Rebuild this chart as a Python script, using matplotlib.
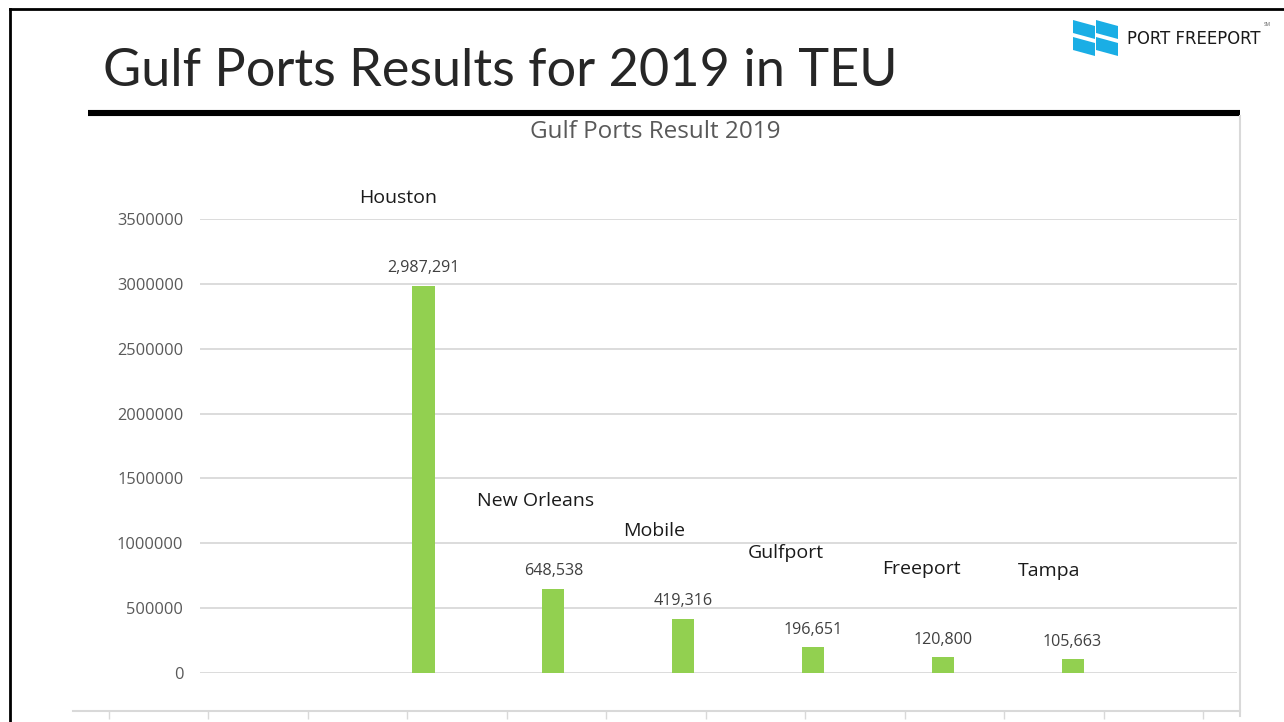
import numpy as np
import matplotlib
matplotlib.use("Agg")
import matplotlib.pyplot as plt
from matplotlib import font_manager
from matplotlib.patches import Polygon

# port container volumes, 2019 (TEU)
ports = ["Houston", "New Orleans", "Mobile", "Gulfport", "Freeport", "Tampa"]
teu = [2987291, 648538, 419316, 196651, 120800, 105663]
y_ticks = [0, 500000, 1000000, 1500000, 2000000, 2500000, 3000000, 3500000]

# name labels sit up and to the left of each bar (pixels)
name_dx = [-25, -18, -29, -27, -21, -23]
name_dy = [88, 88, 88, 94, 88, 88]

W, H = 1284, 722
installed = {f.name for f in font_manager.fontManager.ttflist}
narrow = "Liberation Sans Narrow" if "Liberation Sans Narrow" in installed else "DejaVu Sans"

plt.rcParams["font.family"] = ["Open Sans", "DejaVu Sans"]

fig = plt.figure(figsize=(W / 100, H / 100), dpi=100)
fig.patch.set_facecolor("white")

# slide layer in pixel coordinates
bg = fig.add_axes([0, 0, 1, 1], zorder=0)
bg.set_xlim(0, W)
bg.set_ylim(H, 0)
bg.axis("off")

bg.plot([10, 10], [9, H], color="black", lw=2)
bg.plot([10, W], [9, 9], color="black", lw=2)
bg.plot([88, 1240], [113, 113], color="black", lw=4.4, solid_capstyle="butt")
bg.plot([1240, 1240], [116, 716], color="#d9d9d9", lw=1.5)


def fit_width(t, target):
    fig.canvas.draw()
    w = t.get_window_extent().width
    t.set_fontsize(t.get_fontsize() * target / w)


title = bg.text(103, 72, "Gulf Ports Results for 2019 in TEU", fontsize=36,
                family=["Lato", "DejaVu Sans"], color="#262626", va="center", ha="left")
fit_width(title, 795)

# logo
blue = "#1aaee5"
for x0 in (1073, 1096):
    for y0 in (20, 37):
        bg.add_patch(Polygon([(x0, y0), (x0 + 22, y0 + 6), (x0 + 22, y0 + 19), (x0, y0 + 13)],
                             closed=True, color=blue, lw=0))
logo = bg.text(1127, 39, "PORT FREEPORT", fontsize=20, family=narrow, fontstretch="condensed",
               color="#1a1a1a", va="center", ha="left")
fit_width(logo, 134)
bg.text(1264, 24, "SM", fontsize=3.5, color="#555555", va="center", ha="left")

bg.text(655, 132, "Gulf Ports Result 2019", fontsize=17.5, color="#595959", ha="center", va="center")

# main chart
ax = fig.add_axes([200 / W, (H - 673) / H, 1037 / W, 454 / H], zorder=1)
ax.patch.set_alpha(0)
x = np.arange(1, len(ports) + 1)
ax.bar(x, teu, width=0.17, color="#92d050", zorder=3)
ax.set_xlim(-0.722, 7.267)
ax.set_ylim(0, 3500000)
ax.set_yticks(y_ticks)
ax.set_yticklabels([str(v) for v in y_ticks])
ax.set_xticks([])
ax.tick_params(axis="y", length=0, pad=12, labelcolor="#595959", labelsize=11.8)
ax.yaxis.grid(True, color="#d9d9d9", lw=1.3)
ax.set_axisbelow(True)
for s in ax.spines.values():
    s.set_visible(False)

for xi, v, dx, dy, name in zip(x, teu, name_dx, name_dy, ports):
    ax.annotate(f"{v:,}", (xi, v), xytext=(0, 17.5 * 0.72), textcoords="offset points",
                ha="center", va="center", fontsize=11.6, color="#404040", annotation_clip=False)
    ax.annotate(name, (xi, v), xytext=(dx * 0.72, dy * 0.72), textcoords="offset points",
                ha="center", va="center", fontsize=14, color="#1a1a1a", annotation_clip=False)

# lower category axis
axb = fig.add_axes([73 / W, (H - 711) / H, (1240 - 73) / W, 0.001], zorder=1)
axb.patch.set_alpha(0)
axb.set_xlim(0, 1167)
axb.set_xticks(36 + 99.45 * np.arange(12))
axb.set_xticklabels([])
axb.set_yticks([])
for k in ("top", "left", "right"):
    axb.spines[k].set_visible(False)
axb.spines["bottom"].set_color("#d9d9d9")
axb.spines["bottom"].set_linewidth(1.5)
axb.tick_params(axis="x", direction="out", length=6, color="#d9d9d9", width=1)

fig.savefig("out.png", dpi=100)
